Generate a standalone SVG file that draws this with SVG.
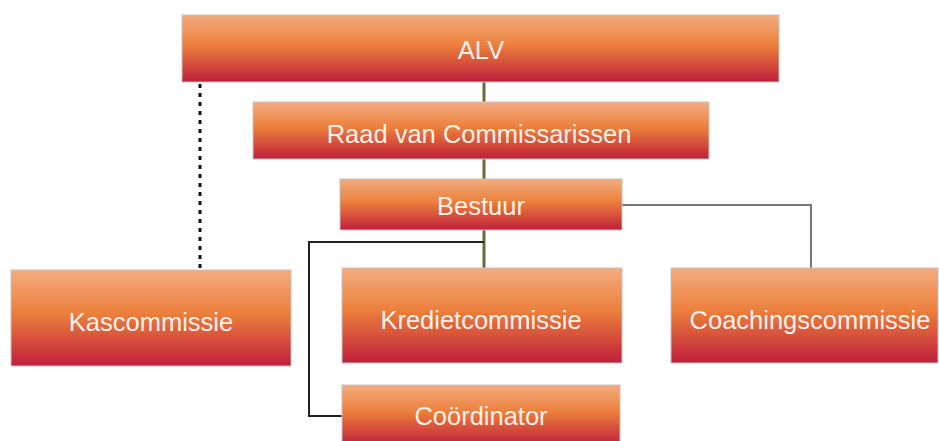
<svg xmlns="http://www.w3.org/2000/svg" width="939" height="441" viewBox="0 0 939 441">
<defs>
<linearGradient id="g" x1="0" y1="0" x2="0" y2="1">
<stop offset="0" stop-color="#f2ac80"/>
<stop offset="0.45" stop-color="#ec7f3b"/>
<stop offset="1" stop-color="#bf1f3b"/>
</linearGradient>
</defs>
<style>
.box{fill:url(#g);stroke:#c9c2bf;stroke-width:1}
.t{font-family:"Liberation Sans",Arial,sans-serif;font-size:25.5px;fill:#fdf1ea;text-anchor:middle}
</style>
<rect width="939" height="441" fill="#ffffff"/>
<g id="connectors" fill="none">
<line x1="484" y1="82" x2="484" y2="268" stroke="#6b6b3c" stroke-width="3"/>
<line x1="200" y1="84" x2="200" y2="270" stroke="#111" stroke-width="3" stroke-dasharray="4,5"/>
<polyline points="484,242 309,242 309,416 342,416" stroke="#222" stroke-width="2"/>
<polyline points="622,205 811,205 811,268" stroke="#777" stroke-width="2"/>
</g>
<g id="alv"><rect class="box" x="182" y="15" width="597" height="67"/><text class="t" x="481" y="59">ALV</text></g>
<g id="raad"><rect class="box" x="253" y="102" width="456" height="57"/><text class="t" x="479" y="143">Raad van Commissarissen</text></g>
<g id="bestuur"><rect class="box" x="340" y="179" width="282" height="51"/><text class="t" x="481" y="215">Bestuur</text></g>
<g id="kascommissie"><rect class="box" x="11" y="270" width="280" height="96"/><text class="t" x="151" y="331">Kascommissie</text></g>
<g id="kredietcommissie"><rect class="box" x="342" y="268" width="280" height="95"/><text class="t" x="481" y="329">Kredietcommissie</text></g>
<g id="coachingscommissie"><rect class="box" x="671" y="268" width="267" height="95"/><text class="t" x="810" y="329">Coachingscommissie</text></g>
<g id="coordinator"><rect class="box" x="342" y="385" width="278" height="60"/><text class="t" x="481" y="425">Coördinator</text></g>
</svg>
